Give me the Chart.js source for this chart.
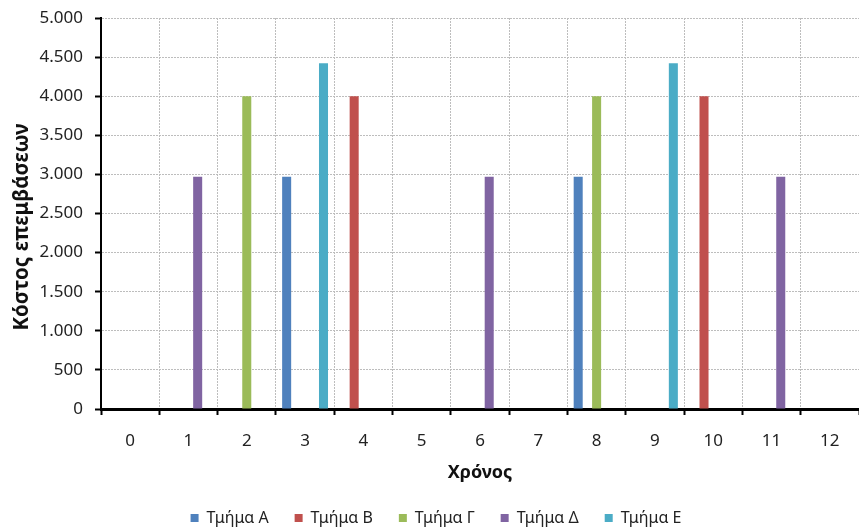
<!DOCTYPE html>
<html><head><meta charset="utf-8">
<script src="https://cdn.jsdelivr.net/npm/chart.js@4/dist/chart.umd.min.js"></script>
<style>html,body{margin:0;padding:0;background:#fff}#wrap{width:859px;height:527px;position:relative}</style>
</head><body><div id="wrap"><canvas id="c"></canvas></div>
<script>
const categories = ['0','1','2','3','4','5','6','7','8','9','10','11','12'];
const seriesNames = ['Τμήμα A','Τμήμα B','Τμήμα Γ','Τμήμα Δ','Τμήμα Ε'];
const tmimaA = [0,0,0,2970,0,0,0,0,2970,0,0,0,0];
const tmimaB = [0,0,0,0,4000,0,0,0,0,0,4000,0,0];
const tmimaG = [0,0,4000,0,0,0,0,0,4000,0,0,0,0];
const tmimaD = [0,2970,0,0,0,0,2970,0,0,0,0,2970,0];
const tmimaE = [0,0,0,4420,0,0,0,0,0,4420,0,0,0];
const yTicks = [0,500,1000,1500,2000,2500,3000,3500,4000,4500,5000];
const yTitle = 'Κόστος επεμβάσεων';
const xTitle = 'Χρόνος';
const colors = ['#4F81BD','#C0504D','#9BBB59','#8064A2','#4BACC6'];
const allSeries = [tmimaA,tmimaB,tmimaG,tmimaD,tmimaE];

function fmt(v){ return String(v).replace(/\B(?=(\d{3})+(?!\d))/g,'.'); }

const FONT = "'Noto Sans', sans-serif";

const yTitlePlugin = {
  id: 'yTitle',
  afterDraw(chart) {
    const ctx = chart.ctx;
    ctx.save();
    ctx.translate(22, 227);
    ctx.rotate(-Math.PI / 2);
    ctx.font = "bold 20.5px 'Noto Sans', sans-serif";
    ctx.fillStyle = '#111';
    ctx.textAlign = 'center';
    ctx.textBaseline = 'middle';
    ctx.fillText(yTitle, 0, 0);
    ctx.restore();
  }
};

new Chart(document.getElementById('c'), {
  type: 'bar',
  data: {
    labels: categories,
    datasets: allSeries.map((d,i)=>({
      label: seriesNames[i], data: d, backgroundColor: colors[i], borderWidth: 0,
      barPercentage: 0.98, categoryPercentage: 0.79
    }))
  },
  plugins: [yTitlePlugin],
  options: {
    responsive: true, maintainAspectRatio: false, animation: false,
    layout: { padding: { top: 18, right: -2, left: 11, bottom: -9 } },
    plugins: {
      tooltip: { enabled: false },
      legend: {
        position: 'bottom',
        labels: { boxWidth: 8, boxHeight: 8, padding: 26, color: '#222', font: { family: FONT, size: 16 } }
      }
    },
    scales: {
      x: {
        afterFit: (s)=>{ s.height = 75; },
        grid: { color: '#bdbdbd', lineWidth: 1, drawTicks: true, tickLength: 6, tickColor: '#000', tickWidth: 2, tickBorderDash: [] },
        border: { display: true, color: '#000', width: 3, dash: [2,1] },
        ticks: { color: '#222', padding: 16, font: { family: FONT, size: 17 }, maxRotation: 0 },
        title: { display: true, text: xTitle, color: '#111', padding: { top: 8, bottom: 0 }, font: { family: FONT, size: 18, weight: 'bold' } }
      },
      y: {
        min: 0, max: 5000,
        afterFit: (s)=>{ s.width = 90; s.paddingTop = 0; s.paddingBottom = 0; },
        afterBuildTicks: (s)=>{ s.ticks = yTicks.map(v=>({value:v})); },
        grid: { color: '#bdbdbd', lineWidth: 1, drawTicks: true, tickLength: 6, tickColor: '#000', tickWidth: 2, tickBorderDash: [] },
        border: { display: true, color: '#000', width: 2, dash: [2,1] },
        ticks: { color: '#222', padding: 12, font: { family: FONT, size: 17 }, callback: (v)=>fmt(v) },
        title: { display: false }
      }
    }
  }
});
</script></body></html>
